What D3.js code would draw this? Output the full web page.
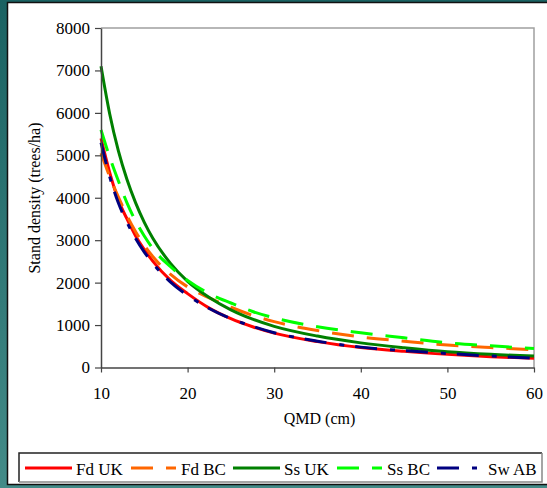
<!DOCTYPE html>
<html>
<head>
    <title>Stand density vs QMD</title>
    <script src="https://d3js.org/d3.v7.min.js"></script>
    <style>
        body { margin: 0; padding: 0; overflow: hidden; }
        svg { display: block; }
        text { font-family: "Liberation Serif", "Times New Roman", serif; fill: #000; }
    </style>
</head>
<body>
    <div id="chart"></div>

    <script>
        // QMD (cm) sample points
        const qmd = [10, 11, 12, 13, 14, 15, 16, 18, 20, 22.5, 25, 27.5, 30, 35, 40, 45, 50, 55, 60];

        // stand density (trees/ha) per series
        const fdUK = [5400, 4600, 3950, 3500, 3100, 2780, 2500, 2060, 1740, 1400, 1150, 960, 810, 610, 470, 380, 310, 255, 215];
        const fdBC = [5050, 4500, 4020, 3580, 3200, 2880, 2610, 2200, 1900, 1640, 1420, 1230, 1080, 870, 720, 620, 530, 470, 420];
        const ssUK = [7100, 5980, 5110, 4430, 3880, 3420, 3040, 2460, 2030, 1650, 1360, 1140, 970, 740, 580, 465, 370, 310, 270];
        const ssBC = [5600, 4960, 4400, 3880, 3450, 3100, 2800, 2380, 2050, 1740, 1520, 1320, 1170, 960, 820, 700, 580, 510, 450];
        const swAB = [5300, 4500, 3880, 3420, 3040, 2720, 2450, 2020, 1700, 1390, 1150, 970, 820, 620, 480, 395, 330, 270, 220];

        const xTicks = [10, 20, 30, 40, 50, 60];
        const yTicks = [0, 1000, 2000, 3000, 4000, 5000, 6000, 7000, 8000];

        const series = [
            { name: "Fd UK", values: fdUK, color: "#ff0000", dash: null, lx: 25 },
            { name: "Fd BC", values: fdBC, color: "#ff6600", dash: "22,13", lx: 131 },
            { name: "Ss UK", values: ssUK, color: "#008000", dash: null, lx: 233 },
            { name: "Ss BC", values: ssBC, color: "#00ff00", dash: "22,13", lx: 337 },
            { name: "Sw AB", values: swAB, color: "#000080", dash: "22,13,5,11", lx: 437 }
        ];

        const W = 547, H = 488;
        const plotL = 101, plotR = 534, plotT = 28, plotB = 367.5;
        const serif = '"Liberation Serif", "Times New Roman", serif';

        const svg = d3.select("#chart").append("svg")
            .attr("width", W)
            .attr("height", H);

        // teal slide background
        const grad = svg.append("defs").append("linearGradient")
            .attr("id", "bg").attr("x1", 0).attr("y1", 0).attr("x2", 0).attr("y2", 1);
        grad.append("stop").attr("offset", "0%").attr("stop-color", "#1a6262");
        grad.append("stop").attr("offset", "100%").attr("stop-color", "#438b88");
        svg.append("rect").attr("width", W).attr("height", H).attr("fill", "url(#bg)");

        // white chart panel
        svg.append("rect")
            .attr("x", 7.5).attr("y", 2.5)
            .attr("width", 560).attr("height", 482)
            .attr("fill", "#fff")
            .attr("stroke", "#111")
            .attr("stroke-width", 1.5);

        const x = d3.scaleLinear().domain([10, 60]).range([plotL, plotR]);
        const y = d3.scaleLinear().domain([0, 8000]).range([plotB, plotT]);

        // plot frame (top/right)
        svg.append("path")
            .attr("d", `M${plotL},${plotT}H${plotR}V${plotB}`)
            .attr("fill", "none")
            .attr("stroke", "#a0a0a0")
            .attr("stroke-width", 1.5);

        // series lines
        const line = d3.line()
            .x((d, i) => x(qmd[i]))
            .y(d => y(d))
            .curve(d3.curveMonotoneX);

        svg.append("g")
            .selectAll("path")
            .data(series)
            .enter().append("path")
            .attr("d", d => line(d.values))
            .attr("fill", "none")
            .attr("stroke", d => d.color)
            .attr("stroke-width", 3)
            .attr("stroke-dasharray", d => d.dash);

        // axes
        const yAxis = svg.append("g")
            .attr("transform", `translate(${plotL},0)`)
            .call(d3.axisLeft(y).tickValues(yTicks).tickFormat(d3.format("d"))
                .tickSize(6).tickPadding(5).tickSizeOuter(0));
        const xAxis = svg.append("g")
            .attr("transform", `translate(0,${plotB})`)
            .call(d3.axisBottom(x).tickValues(xTicks).tickFormat(d3.format("d"))
                .tickSize(5).tickPadding(14).tickSizeOuter(0));

        [yAxis, xAxis].forEach(g => {
            g.attr("font-family", serif).attr("font-size", 17);
            g.select(".domain").attr("stroke", "#444").attr("stroke-width", 1.5);
            g.selectAll(".tick line").attr("stroke", "#444").attr("stroke-width", 1.2);
            g.selectAll(".tick text")
                .attr("fill", "#000")
                .style("font-family", serif)
                .style("font-size", "17px");
        });

        // axis titles
        svg.append("text")
            .attr("x", (plotL + plotR) / 2 + 2)
            .attr("y", 424)
            .attr("text-anchor", "middle")
            .style("font-size", "16px")
            .text("QMD (cm)");

        svg.append("text")
            .attr("transform", "translate(40,198) rotate(-90)")
            .attr("text-anchor", "middle")
            .style("font-size", "16px")
            .text("Stand density (trees/ha)");

        // legend box with 3d-ish border
        const lg = svg.append("g");
        lg.append("rect")
            .attr("x", 19).attr("y", 453)
            .attr("width", 523).attr("height", 29)
            .attr("fill", "#fff");
        lg.append("path")
            .attr("d", "M19,482V453H542")
            .attr("fill", "none").attr("stroke", "#222").attr("stroke-width", 1.5);
        lg.append("path")
            .attr("d", "M542,453V482H19")
            .attr("fill", "none").attr("stroke", "#888").attr("stroke-width", 1.5);

        const item = lg.selectAll("g.item")
            .data(series)
            .enter().append("g")
            .attr("class", "item");

        item.append("line")
            .attr("x1", d => d.lx)
            .attr("x2", d => d.lx + (d.dash ? 45 : 47))
            .attr("y1", 468).attr("y2", 468)
            .attr("stroke", d => d.color)
            .attr("stroke-width", 3)
            .attr("stroke-dasharray", d => d.dash);

        item.append("text")
            .attr("x", d => d.name === "Sw AB" ? 488 : d.lx + (d.dash ? 50 : 51))
            .attr("y", 475)
            .style("font-size", "17px")
            .text(d => d.name);
    </script>
</body>
</html>
